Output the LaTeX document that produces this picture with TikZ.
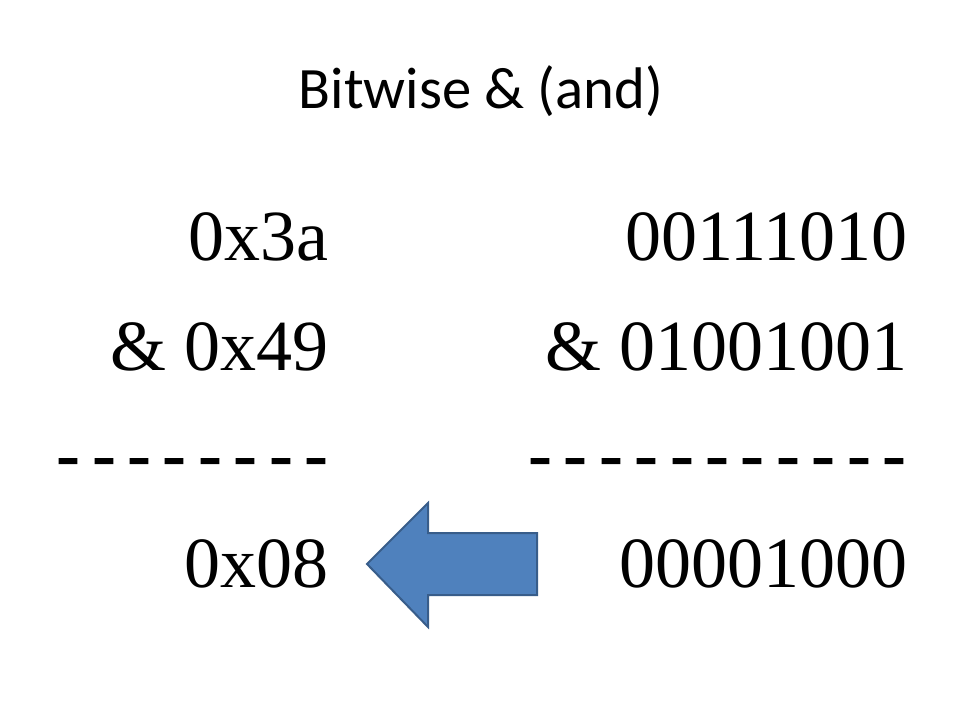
\documentclass[tikz,border=0pt]{standalone}
\usepackage{fontspec}
\setmainfont{Liberation Serif}
\newfontfamily\titlefont{Carlito}
\usepackage{tikz}

\definecolor{arrowblue}{HTML}{4F81BD}
\definecolor{arrowedge}{HTML}{385D8A}
\tikzset{
	num/.style={anchor=base east, inner sep=0pt, font=\fontsize{54}{60}\selectfont},
	dashrow/.style={num, font=\fontsize{54}{60}\selectfont\bfseries},
}
\newcommand{\dashes}[1]{{\spaceskip=8.6pt\relax #1}}

\begin{document}
\begin{tikzpicture}[x=0.75pt, y=-0.75pt]
	\useasboundingbox (0,0) rectangle (960,720);
	\node[anchor=base, inner sep=0pt, font=\titlefont\fontsize{44}{50}\selectfont] (title) at (481,109) {Bitwise \& (and)};
	% hex column
	\node[num] (hexa) at (329,261) {0x3a};
	\node[num] (hexb) at (329,370) {\& 0x49};
	\node[dashrow] (hexline) at (329,478) {\dashes{- - - - - - - -}};
	\node[num] (hexres) at (329,587) {0x08};
	% binary column
	\node[num] (bina) at (908,261) {00111010};
	\node[num] (binb) at (908,370) {\& 01001001};
	\node[dashrow] (binline) at (907,478) {\dashes{- - - - - - - - - - -}};
	\node[num] (binres) at (908,587) {00001000};
	% result arrow
	\filldraw[fill=arrowblue, draw=arrowedge, line width=1.5pt]
	(367,564) -- (428,503) -- (428,533) -- (537,533) -- (537,595) -- (428,595) -- (428,627) -- cycle;
\end{tikzpicture}
\end{document}
